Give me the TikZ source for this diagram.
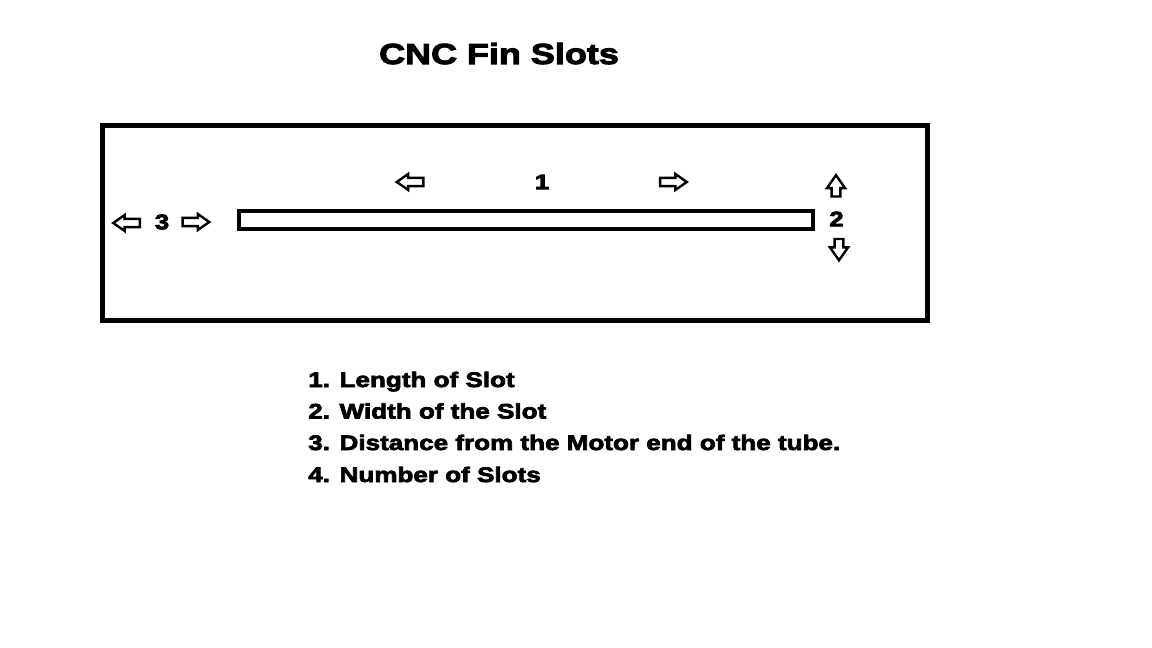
\documentclass[tikz,border=0pt]{standalone}
\usepackage{fontspec}
\setmainfont{Liberation Sans}[FakeStretch=1.24,BoldFeatures={FakeBold=3.5}]
\usepackage{tikz}
\usetikzlibrary{shapes.arrows}
\usetikzlibrary{positioning}

\begin{document}
\begin{tikzpicture}[x=0.75pt,y=0.75pt,yscale=-1,xscale=1,
  dimarrow/.style={single arrow, draw, line width=1.8pt, inner sep=2.2pt,
    minimum height=20pt, single arrow head extend=2.9pt, single arrow tip angle=70},
  vdimarrow/.style={dimarrow, minimum height=16pt, inner sep=2.4pt, single arrow head extend=3.5pt},
  lbl/.style={font=\bfseries\fontsize{15.75}{19}\selectfont, inner sep=0pt},
  item/.style={lbl, anchor=base west}]
  \path[use as bounding box] (0,0) rectangle (1152,648); %whole page, 1152 by 648
  % Title
  \node [font=\bfseries\fontsize{21.75}{26}\selectfont, inner sep=0pt, anchor=base] (title) at (499,64) {CNC Fin Slots};
  %Outer frame
  \draw [line width=3.75pt] (102,125.5) rectangle (927.5,320.5) ;
  %Slot
  \draw [line width=3pt] (239,211) rectangle (813,229) ;

  % Dimension 3
  \node [dimarrow, shape border rotate=180] (dimthreel) at (129.5,223) {};
  \node [lbl] (dimthree) at (162,222) {3};
  \node [dimarrow] (dimthreer) at (193,222) {};
  % Dimension 1
  \node [dimarrow, shape border rotate=180] (dimonel) at (413,182) {};
  \node [lbl] (dimone) at (542,182) {1};
  \node [dimarrow] (dimoner) at (670.5,182) {};
  % Dimension 2
  \node [vdimarrow, shape border rotate=90] (dimtwou) at (836,189) {};
  \node [lbl] (dimtwo) at (836.5,219) {2};
  \node [vdimarrow, shape border rotate=270] (dimtwod) at (839,246.5) {};

  % Text Node
  \node [item] (itemone) at (308,387) {1. Length of Slot};
  % Text Node
  \node [item] (itemtwo) at (308,418.5) {2. Width of the Slot};
  % Text Node
  \node [item] (itemthree) at (308,450) {3. Distance from the Motor end of the tube.};
  % Text Node
  \node [item] (itemfour) at (308,482) {4. Number of Slots};
\end{tikzpicture}
\end{document}
